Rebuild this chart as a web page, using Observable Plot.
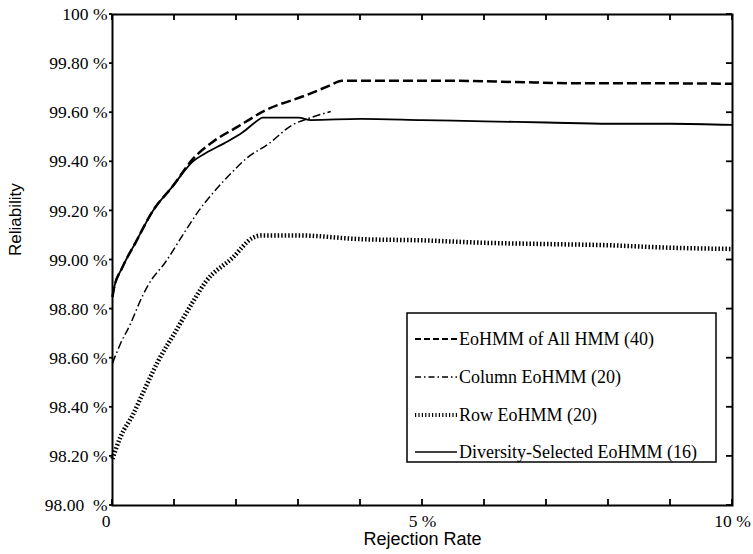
<!DOCTYPE html>
<html><head><meta charset="utf-8">
<script src="https://cdn.jsdelivr.net/npm/d3@7"></script>
<script src="https://cdn.jsdelivr.net/npm/@observablehq/plot@0.6"></script>
<style>body{margin:0;background:#fff} svg{display:block}</style>
</head><body><div id="chart"></div>
<script>
// Series names
const seriesNames = ["EoHMM of All HMM (40)", "Column EoHMM (20)", "Row EoHMM (20)", "Diversity-Selected EoHMM (16)"];

// EoHMM of All HMM (40) - dashed
const allX = [0, 0.02, 0.16, 0.37, 0.65, 0.97, 1.29, 1.61, 2.0, 2.47, 3.11, 3.5, 3.7, 4.5, 5.5, 6.5, 7.5, 8.5, 10];
const allY = [98.85, 98.88, 98.97, 99.07, 99.20, 99.30, 99.41, 99.48, 99.54, 99.61, 99.67, 99.71, 99.73, 99.73, 99.73, 99.725, 99.72, 99.72, 99.718];

// Column EoHMM (20) - dash-dot
const colX = [0, 0.13, 0.29, 0.45, 0.58, 0.85, 1.18, 1.39, 1.61, 1.9, 2.19, 2.5, 2.9, 3.2, 3.52];
const colY = [98.58, 98.66, 98.74, 98.835, 98.90, 98.99, 99.12, 99.20, 99.27, 99.35, 99.42, 99.47, 99.55, 99.58, 99.605];

// Row EoHMM (20) - dotted
const rowX = [0, 0.13, 0.33, 0.53, 0.74, 1.02, 1.31, 1.5, 1.94, 2.26, 2.4, 3, 4, 5, 6, 7, 8, 9, 10];
const rowY = [98.19, 98.28, 98.37, 98.48, 98.59, 98.71, 98.835, 98.91, 99.01, 99.09, 99.10, 99.10, 99.085, 99.08, 99.07, 99.065, 99.06, 99.05, 99.045];

// Diversity-Selected EoHMM (16) - solid
const divX = [0, 0.02, 0.16, 0.37, 0.65, 0.97, 1.29, 1.5, 1.8, 2.1, 2.35, 2.42, 3.0, 3.2, 4.0, 5.0, 6.0, 7.0, 8.0, 9.0, 10];
const divY = [98.85, 98.88, 98.97, 99.07, 99.20, 99.30, 99.40, 99.435, 99.475, 99.52, 99.57, 99.58, 99.58, 99.57, 99.575, 99.57, 99.565, 99.56, 99.555, 99.555, 99.55];

// Ticks
const xTicks = [0, 1, 2, 3, 4, 5, 6, 7, 8, 9, 10];
const xLabelTicks = [5, 10];
const xLabels = ["5 %", "10 %"];
const xZeroTick = [0];
const xZeroLabel = ["0"];
const yTicks = [98, 98.2, 98.4, 98.6, 98.8, 99, 99.2, 99.4, 99.6, 99.8, 100];
const yLabels = ["98.00  %", "98.20 %", "98.40 %", "98.60 %", "98.80 %", "99.00 %", "99.20 %", "99.40 %", "99.60 %", "99.80 %", "100 %"];

const xTitle = "Rejection Rate";
const yTitle = "Reliability";

const mk = (xs, ys) => xs.map((x, i) => ({x, y: ys[i]}));
const styles = [
  {strokeWidth: 2.5, strokeDasharray: "10,4"},
  {strokeWidth: 1.5, strokeDasharray: "8,3,1.5,3"},
  {strokeWidth: 4.5, strokeDasharray: "1.5,2"},
  {strokeWidth: 1.8, strokeDasharray: null}
];
const data = [mk(allX, allY), mk(colX, colY), mk(rowX, rowY), mk(divX, divY)];

const serif = "'Liberation Serif', 'Times New Roman', serif";
const sans = "'Liberation Sans', Arial, sans-serif";

const W = 753, H = 554, ML = 112, MR = 21, MT = 14, MB = 49;
const tk = 6;

const chart = Plot.plot({
  width: W, height: H,
  marginLeft: ML, marginRight: MR, marginTop: MT, marginBottom: MB,
  style: {fontFamily: serif, fontSize: "17.5px", color: "#000", background: "#fff"},
  x: {domain: [0, 10]},
  y: {domain: [98, 100]},
  marks: [
    ...data.map((d, i) => Plot.line(d, {x: "x", y: "y", curve: "monotone-x", stroke: "#000", strokeWidth: styles[i].strokeWidth, strokeDasharray: styles[i].strokeDasharray, strokeLinecap: "butt"})),
    Plot.frame({stroke: "#000", strokeWidth: 2}),
    // labels
    Plot.axisY(yTicks, {anchor: "left", tickSize: 0, tickPadding: 5, label: null, tickFormat: (d) => yLabels[yTicks.indexOf(d)]}),
    Plot.axisX(xLabelTicks, {anchor: "bottom", tickSize: 0, tickPadding: 9, label: null, tickFormat: (d) => xLabels[xLabelTicks.indexOf(d)]}),
    Plot.axisX(xZeroTick, {anchor: "bottom", tickSize: 0, tickPadding: 9, dx: -6.5, label: null, tickFormat: (d) => xZeroLabel[0]}),
    // titles
    Plot.text([yTitle], {text: d => d, frameAnchor: "left", dx: -97, dy: -4, rotate: -90, fontFamily: sans, fontSize: 17}),
    Plot.text([xTitle], {text: d => d, frameAnchor: "bottom", dy: 39, fontFamily: sans, fontSize: 18})
  ]
});
document.getElementById("chart").appendChild(chart);

// Tick marks using the plot's own scales
const svg = d3.select(chart);
const sx = chart.scale("x"), sy = chart.scale("y");
const fx = d3.scaleLinear(sx.domain, sx.range);
const fy = d3.scaleLinear(sy.domain, sy.range);
const [x0, x1] = sx.range, [y0, y1] = sy.range; // y0 bottom, y1 top
const tg = svg.append("g").attr("stroke", "#000").attr("stroke-width", 1.8);
xTicks.forEach(v => {
  tg.append("line").attr("x1", fx(v)).attr("x2", fx(v)).attr("y1", y0).attr("y2", y0 - tk);
  tg.append("line").attr("x1", fx(v)).attr("x2", fx(v)).attr("y1", y1).attr("y2", y1 + tk);
});
yTicks.forEach(v => {
  tg.append("line").attr("x1", x0 - 3).attr("x2", x0).attr("y1", fy(v)).attr("y2", fy(v));
  tg.append("line").attr("x1", x1 - tk).attr("x2", x1).attr("y1", fy(v)).attr("y2", fy(v));
});

// Legend
const lg = svg.append("g").attr("text-anchor", "start");
lg.append("rect").attr("x", 407).attr("y", 313).attr("width", 309).attr("height", 149)
  .attr("fill", "#fff").attr("stroke", "#000").attr("stroke-width", 1.5);
const rowYs = [339, 377, 415, 452];
const legendDash = ["6,3", "6,3,1.5,3", "1.2,2.2", null];
const legendWidth = [2, 1.5, 4, 1.5];
seriesNames.forEach((name, i) => {
  lg.append("line").attr("x1", 415).attr("x2", 457).attr("y1", rowYs[i]).attr("y2", rowYs[i])
    .attr("stroke", "#000").attr("stroke-width", legendWidth[i])
    .attr("stroke-dasharray", legendDash[i]);
  lg.append("text").attr("x", 459).attr("y", rowYs[i]).attr("dy", "0.35em")
    .attr("text-anchor", "start")
    .attr("font-family", serif).attr("font-size", 18).attr("fill", "#000").text(name);
});
</script>
</body></html>
